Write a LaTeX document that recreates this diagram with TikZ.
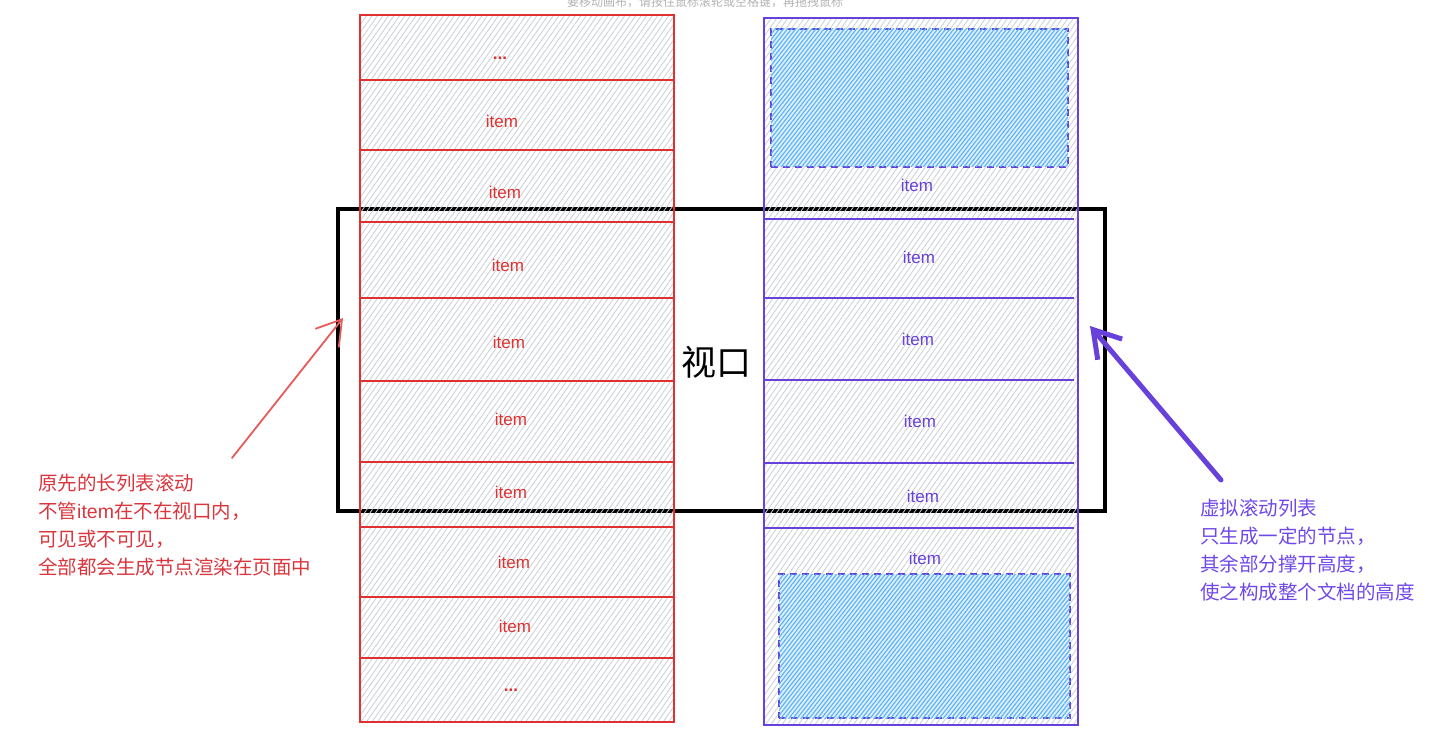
\documentclass[tikz,border=0pt]{standalone}
\usepackage{fontspec}
\setmainfont{Liberation Sans}
\newfontfamily\cjk{Noto Sans CJK SC}
\usetikzlibrary{patterns.meta,arrows.meta}
\definecolor{exred}{HTML}{E03131}
\definecolor{expurple}{HTML}{6741D9}
\definecolor{exblue}{HTML}{4DABF7}
\definecolor{hatchgray}{HTML}{C9CED4}
\definecolor{labred}{HTML}{D9363E}
\definecolor{labpurple}{HTML}{7048E8}
\begin{document}
\begin{tikzpicture}[x=1pt,y=-1pt,
  colbox/.style={inner sep=0pt, line width=1.3pt,
     pattern={Lines[angle=55,distance=4.5pt,line width=0.8pt]}, pattern color=hatchgray},
  spacer/.style={inner sep=0pt, draw=expurple, line width=1.3pt, dash pattern=on 7pt off 5pt,
     fill=exblue!18, postaction={pattern={Lines[angle=52,distance=3.2pt,line width=1.2pt]}, pattern color=exblue!90}},
  itemL/.style={text=exred, font=\fontsize{17}{20}\selectfont},
  itemR/.style={text=expurple, font=\fontsize{17}{20}\selectfont},
  dotsL/.style={text=exred, font=\bfseries\fontsize{17}{20}\selectfont},
  divL/.style={exred, line width=1.3pt},
  divR/.style={expurple, line width=1.3pt},
  note/.style={anchor=north west, align=left, inner sep=0pt, font=\cjk\fontsize{19.5}{28}\selectfont}
]
\useasboundingbox (0,0) rectangle (1432,751);
\clip (0,0) rectangle (1432,751);

% faded hint at top
\node[text=black!30, font=\cjk\fontsize{12}{14}\selectfont] (hint) at (705,2) {要移动画布，请按住鼠标滚轮或空格键，再拖拽鼠标};

% viewport
\node[draw=black, line width=4pt, minimum width=767pt, minimum height=302pt, inner sep=0pt] (vp) at (721.5,360) {};
\node[font=\cjk\fontsize{35}{40}\selectfont] (vplabel) at (716,362) {视口};

% left column
\node[colbox, draw=exred, minimum width=314pt, minimum height=707pt] (colL) at (517,368.5) {};
\foreach \yy in {80,150,222,298,381,462,527,597,658}
  \draw[divL] (361,\yy) -- (674,\yy);
\node[dotsL] (l0) at (500,58) {...};
\node[itemL] (l1) at (502,121) {item};
\node[itemL] (l2) at (505,192) {item};
\node[itemL] (l3) at (508,265) {item};
\node[itemL] (l4) at (509,342) {item};
\node[itemL] (l5) at (511,419) {item};
\node[itemL] (l6) at (511,492) {item};
\node[itemL] (l7) at (514,562) {item};
\node[itemL] (l8) at (515,626) {item};
\node[dotsL] (l9) at (511,690) {...};

% right column
\node[colbox, draw=expurple, minimum width=314pt, minimum height=707pt] (colR) at (921,371.5) {};
\node[spacer, minimum width=297pt, minimum height=138pt] (topspacer) at (919.5,98) {};
\node[spacer, minimum width=291pt, minimum height=144pt] (botspacer) at (924.5,646) {};
\foreach \yy in {219,298,380,463,528}
  \draw[divR] (765,\yy) -- (1074,\yy);
\node[itemR] (r1) at (917,185) {item};
\node[itemR] (r2) at (919,257) {item};
\node[itemR] (r3) at (918,339) {item};
\node[itemR] (r4) at (920,421) {item};
\node[itemR] (r5) at (923,496) {item};
\node[itemR] (r6) at (925,558) {item};

% notes
\node[note, text=labred] (noteL) at (38,474) {原先的长列表滚动\\不管{\rmfamily item}在不在视口内，\\可见或不可见，\\全部都会生成节点渲染在页面中};
\node[note, text=labpurple] (noteR) at (1200,499) {虚拟滚动列表\\只生成一定的节点，\\其余部分撑开高度，\\使之构成整个文档的高度};

% arrows
\coordinate (aLs) at (232,458);
\coordinate (aLe) at (343,318);
\coordinate (aRs) at (1221,480);
\coordinate (aRe) at (1090,326);
\draw[exred!80, line width=1.8pt, line cap=round,
  -{Straight Barb[length=24pt,width=30pt,line width=1.8pt]}] (aLs) -- (aLe);
\draw[expurple, line width=5pt, line cap=round,
  -{Straight Barb[length=26pt,width=32pt,line width=5pt]}] (aRs) -- (aRe);
\end{tikzpicture}
\end{document}
